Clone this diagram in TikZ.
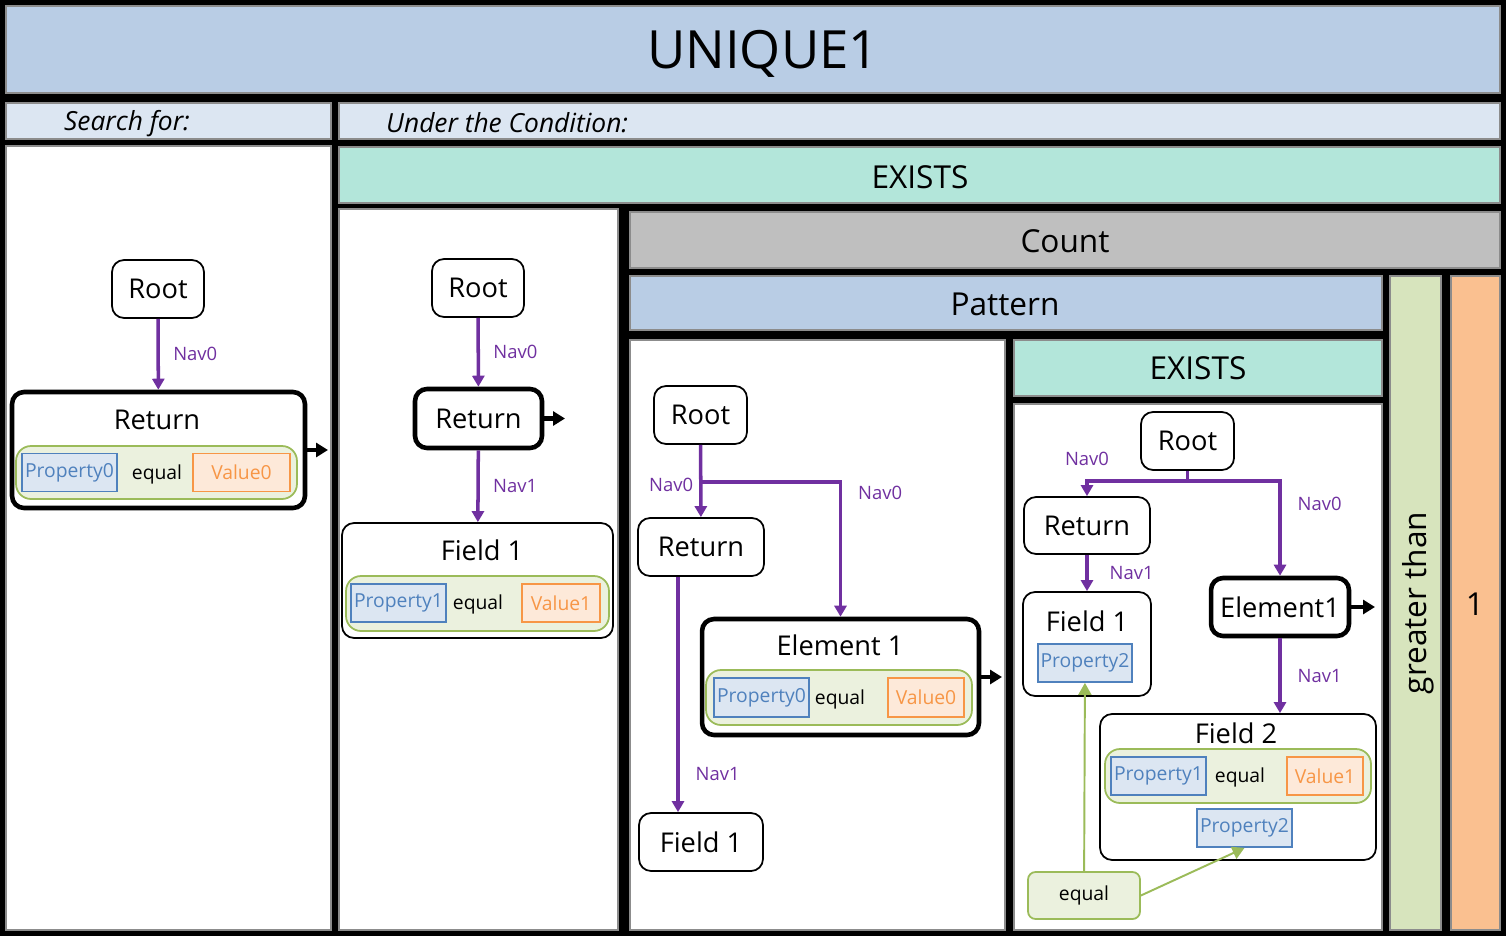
\documentclass[tikz,border=0pt]{standalone}
\usepackage{fontspec}
\setmainfont{Open Sans}
\usetikzlibrary{arrows.meta,positioning}
\definecolor{qryTitleBlue}{RGB}{185, 205, 229}
\definecolor{qryHeadBlue}{RGB}{220, 230, 242}
\definecolor{qryMint}{RGB}{179, 230, 218}
\definecolor{qryGray}{RGB}{191, 191, 191}
\definecolor{qryLightGreen}{RGB}{215, 228, 189}
\definecolor{qryLightOrange}{RGB}{250, 192, 144}
\definecolor{qryPurple}{RGB}{112, 48, 160}
\definecolor{qryBlue}{RGB}{79, 129, 189}
\definecolor{qryPaleBlue}{RGB}{220, 230, 242}
\definecolor{qryOrange}{RGB}{247, 150, 70}
\definecolor{qryPaleOrange}{RGB}{253, 233, 217}
\definecolor{qryGreen}{RGB}{155, 187, 89}
\definecolor{qryPaleGreen}{RGB}{235, 241, 222}

\begin{document}
\begin{tikzpicture}[x=0.02cm,y=-0.02cm,
  panel/.style={draw=black!45,line width=0.8pt},
  bartext/.style={font=\fontsize{18}{22}\selectfont},
  headtext/.style={font=\itshape\fontsize{15}{18}\selectfont},
  box/.style={draw,rounded corners=2.4mm,line width=1pt,fill=white,inner sep=0pt,font=\fontsize{15.5}{19}\selectfont},
  boldbox/.style={box,line width=2.6pt},
  boxtitle/.style={font=\fontsize{15.5}{19}\selectfont},
  cond/.style={draw=qryGreen,fill=qryPaleGreen,rounded corners=3mm,line width=1pt,inner sep=0pt},
  prop/.style={draw=qryBlue,fill=qryPaleBlue,text=qryBlue,line width=1pt,inner sep=0pt,minimum height=0.76cm,font=\fontsize{11}{13}\selectfont},
  val/.style={draw=qryOrange,fill=qryPaleOrange,text=qryOrange,line width=1pt,inner sep=0pt,minimum height=0.76cm,font=\fontsize{11}{13}\selectfont},
  op/.style={font=\fontsize{11}{13}\selectfont},
  navline/.style={line width=2pt,qryPurple},
  nav/.style={navline,-{Triangle[length=2.2mm,width=2.4mm]}},
  navlabel/.style={text=qryPurple,font=\fontsize{10.5}{12}\selectfont},
  outarrow/.style={-{Triangle[length=2.4mm,width=2.8mm]},line width=2.4pt},
  link/.style={-{Triangle[length=2.4mm,width=2.6mm]},line width=1.1pt,qryGreen}
]
  % frame and panels
  \fill[black] (0,0) rectangle (1506,936);
  \draw[panel,fill=qryTitleBlue] (6,6) rectangle (1500,93);
  \node[font=\fontsize{30}{36}\selectfont] (title) at (763,54) {UNIQUE1};
  \draw[panel,fill=qryHeadBlue] (6,103) rectangle (331,139);
  \node[headtext] (searchfor) at (127,124) {Search for:};
  \draw[panel,fill=qryHeadBlue] (339,103) rectangle (1500,139);
  \node[headtext,anchor=west] (condition) at (380,123) {Under the Condition:};
  \draw[panel,fill=white] (6,146) rectangle (331,930);
  \draw[panel,fill=qryMint] (339,147) rectangle (1500,203);
  \node[bartext] (exists) at (920,177) {EXISTS};
  \draw[panel,fill=white] (339,209) rectangle (618,930);
  \draw[panel,fill=qryGray] (630,212) rectangle (1500,268);
  \node[bartext] (count) at (1065,241) {Count};
  \draw[panel,fill=qryTitleBlue] (630,276) rectangle (1382,330);
  \node[bartext] (pattern) at (1005,304) {Pattern};
  \draw[panel,fill=qryLightGreen] (1390,276) rectangle (1441,930);
  \node[bartext,rotate=90] (greater) at (1418,603) {greater than};
  \draw[panel,fill=qryLightOrange] (1451,276) rectangle (1500,930);
  \node[bartext] (one) at (1475,604) {1};
  \draw[panel,fill=white] (630,340) rectangle (1005,930);
  \draw[panel,fill=qryMint] (1014,340) rectangle (1382,396);
  \node[bartext] (existsinner) at (1198,368) {EXISTS};
  \draw[panel,fill=white] (1014,404) rectangle (1382,930);

  % search for
  \node[box,minimum width=1.84cm,minimum height=1.16cm] (rootA) at (158,289) {Root};
  \node[boldbox,minimum width=5.86cm,minimum height=2.32cm] (retA) at (158.5,450) {};
  \node[boxtitle] (retAtitle) at (157,420) {Return};
  \node[cond,minimum width=5.62cm,minimum height=1.06cm] (condA) at (156.5,472.5) {};
  \node[prop,minimum width=1.9cm] (propA) at (69.5,472.5) {Property0};
  \node[op] (eqA) at (157,474) {equal};
  \node[val,minimum width=1.94cm] (valA) at (241.5,472.5) {Value0};
  \coordinate (retAout) at (328,450);
  \draw[nav] (rootA) -- (retA) node[navlabel,midway,right=0.15cm] {Nav0};
  \draw[outarrow] (retA) -- (retAout);

  % exists
  \node[box,minimum width=1.84cm,minimum height=1.16cm] (rootB) at (478,288) {Root};
  \node[boldbox,minimum width=2.54cm,minimum height=1.18cm] (retB) at (478.5,418.5) {Return};
  \node[box,minimum width=5.42cm,minimum height=2.3cm] (fieldB) at (477.5,580.5) {};
  \node[boxtitle] (fieldBtitle) at (482,550) {Field 1};
  \node[cond,minimum width=5.26cm,minimum height=1.1cm] (condB) at (477.5,603.5) {};
  \node[prop,minimum width=1.9cm] (propB) at (398.5,603) {Property1};
  \node[op] (eqB) at (478,604) {equal};
  \node[val,minimum width=1.56cm] (valB) at (561,603) {Value1};
  \coordinate (retBout) at (565,418.5);
  \draw[nav] (rootB) -- (retB) node[navlabel,midway,right=0.15cm] {Nav0};
  \draw[nav] (retB) -- (fieldB) node[navlabel,midway,right=0.15cm] {Nav1};
  \draw[outarrow] (retB) -- (retBout);

  % pattern
  \node[box,minimum width=1.86cm,minimum height=1.16cm] (rootC) at (700.5,415) {Root};
  \node[box,minimum width=2.52cm,minimum height=1.16cm] (retC) at (701,547) {Return};
  \node[box,minimum width=2.48cm,minimum height=1.16cm] (fieldC) at (701,842) {Field 1};
  \node[boldbox,minimum width=5.54cm,minimum height=2.32cm] (elemC) at (840.5,677) {};
  \node[boxtitle] (elemCtitle) at (840,645) {Element 1};
  \node[cond,minimum width=5.32cm,minimum height=1.1cm] (condC) at (839,697.5) {};
  \node[prop,minimum width=1.9cm,minimum height=0.78cm] (propC) at (761.5,697.5) {Property0};
  \node[op] (eqC) at (840,699) {equal};
  \node[val,minimum width=1.52cm,minimum height=0.78cm] (valC) at (926,697.5) {Value0};
  \coordinate (splitC) at (700.5,482);
  \coordinate (elemCout) at (1002,677);
  \draw[nav] (rootC) -- (retC) node[navlabel,pos=0.55,left=0cm] {Nav0};
  \draw[nav] (splitC) -| (elemC) node[navlabel,pos=0.54,right=0.2cm] {Nav0};
  \draw[nav] ([xshift=-0.46cm]retC.south) -- ([xshift=-0.46cm]fieldC.north)
    node[navlabel,pos=0.84,right=0.2cm] {Nav1};
  \draw[outarrow] (elemC) -- (elemCout);

  % inner exists
  \node[box,minimum width=1.86cm,minimum height=1.16cm] (rootD) at (1187.5,441) {Root};
  \node[box,minimum width=2.52cm,minimum height=1.14cm] (retD) at (1087,525.5) {Return};
  \node[box,minimum width=2.56cm,minimum height=2.08cm] (fieldD) at (1087,644) {};
  \node[boxtitle] (fieldDtitle) at (1087,621) {Field 1};
  \node[prop,minimum width=1.88cm] (propD) at (1085,663) {Property2};
  \node[boldbox,minimum width=2.76cm,minimum height=1.16cm] (elemD) at (1280,607) {Element1};
  \node[box,minimum width=5.52cm,minimum height=2.92cm] (fieldE) at (1238,787) {};
  \node[boxtitle] (fieldEtitle) at (1236,733) {Field 2};
  \node[cond,minimum width=5.32cm,minimum height=1.08cm] (condE) at (1238,776) {};
  \node[prop,minimum width=1.9cm] (propE) at (1158.5,776) {Property1};
  \node[op] (eqE) at (1240,777) {equal};
  \node[val,minimum width=1.52cm] (valE) at (1325,776) {Value1};
  \node[prop,minimum width=1.9cm] (propF) at (1244.5,828) {Property2};
  \node[cond,rounded corners=1.5mm,minimum width=2.24cm,minimum height=0.94cm,font=\fontsize{11}{13}\selectfont] (joinD) at (1084,895.5) {equal};
  \coordinate (splitD) at (1187.5,481);
  \coordinate (elemDout) at (1375,607);
  \draw[navline] (rootD) -- (splitD);
  \draw[nav] (splitD) -| (retD) node[navlabel,pos=0.5,above=0.15cm] {Nav0};
  \draw[nav] (splitD) -| (elemD) node[navlabel,pos=0.62,right=0.2cm] {Nav0};
  \draw[nav] (retD) -- (fieldD) node[navlabel,midway,right=0.3cm] {Nav1};
  \draw[nav] (elemD.south) -- (elemD.south |- fieldE.north) node[navlabel,midway,right=0.2cm] {Nav1};
  \draw[outarrow] (elemD) -- (elemDout);
  \draw[link] (joinD) -- (propD);
  \draw[link] (joinD.east) -- (propF.south);
\end{tikzpicture}
\end{document}
